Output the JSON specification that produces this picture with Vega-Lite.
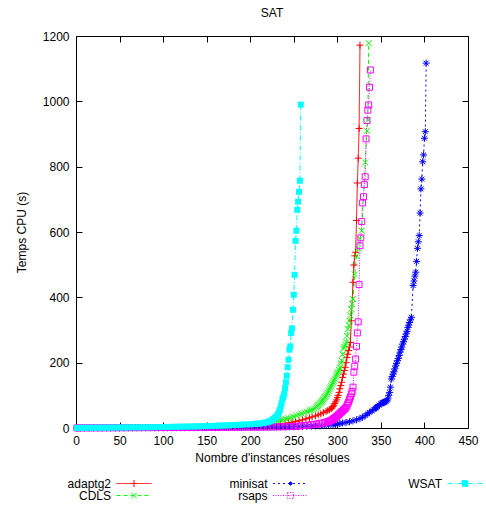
{
"$schema": "https://vega.github.io/schema/vega-lite/v6.json",
"width": 392, "height": 392,
"autosize": {"type": "none"},
"padding": {"left": 76, "top": 36, "right": 18, "bottom": 79},
"background": "white",
"title": {"text": "SAT", "fontSize": 12, "fontWeight": "normal", "font": "Liberation Sans", "color": "black", "offset": 10},
"config": {
 "font": "Liberation Sans",
 "view": {"stroke": "black", "strokeWidth": 1},
 "axis": {"grid": false, "domain": false, "tickColor": "black", "tickSize": -6, "tickWidth": 1, "labelFont": "Liberation Sans", "labelFontSize": 12, "labelColor": "black", "labelPadding": 13, "labelFlush": false, "labelOverlap": false, "titleFont": "Liberation Sans", "titleFontSize": 12, "titleFontWeight": "normal", "titleColor": "black"}
},
"data": {"values": [
{"s":"adaptg2","n":1,"t":0.1},{"s":"adaptg2","n":5,"t":0.1},{"s":"adaptg2","n":10,"t":0.2},{"s":"adaptg2","n":15,"t":0.2},{"s":"adaptg2","n":20,"t":0.3},{"s":"adaptg2","n":25,"t":0.3},{"s":"adaptg2","n":30,"t":0.4},{"s":"adaptg2","n":35,"t":0.4},{"s":"adaptg2","n":40,"t":0.5},{"s":"adaptg2","n":45,"t":0.5},{"s":"adaptg2","n":50,"t":0.6},{"s":"adaptg2","n":55,"t":0.7},{"s":"adaptg2","n":60,"t":0.8},{"s":"adaptg2","n":65,"t":0.8},{"s":"adaptg2","n":70,"t":0.9},{"s":"adaptg2","n":75,"t":1},{"s":"adaptg2","n":80,"t":1.1},{"s":"adaptg2","n":85,"t":1.2},{"s":"adaptg2","n":90,"t":1.3},{"s":"adaptg2","n":95,"t":1.4},{"s":"adaptg2","n":100,"t":1.5},{"s":"adaptg2","n":105,"t":1.6},{"s":"adaptg2","n":110,"t":1.8},{"s":"adaptg2","n":115,"t":1.9},{"s":"adaptg2","n":120,"t":2},{"s":"adaptg2","n":125,"t":2.2},{"s":"adaptg2","n":130,"t":2.4},{"s":"adaptg2","n":135,"t":2.6},{"s":"adaptg2","n":140,"t":2.8},{"s":"adaptg2","n":145,"t":3},{"s":"adaptg2","n":150,"t":3.3},{"s":"adaptg2","n":155,"t":3.5},{"s":"adaptg2","n":160,"t":3.8},{"s":"adaptg2","n":165,"t":4.1},{"s":"adaptg2","n":170,"t":4.4},{"s":"adaptg2","n":175,"t":4.7},{"s":"adaptg2","n":180,"t":5},{"s":"adaptg2","n":185,"t":5.4},{"s":"adaptg2","n":190,"t":5.8},{"s":"adaptg2","n":195,"t":6.3},{"s":"adaptg2","n":200,"t":6.8},{"s":"adaptg2","n":205,"t":7.3},{"s":"adaptg2","n":210,"t":7.9},{"s":"adaptg2","n":215,"t":8.5},{"s":"adaptg2","n":220,"t":9.2},{"s":"adaptg2","n":225,"t":10},{"s":"adaptg2","n":230,"t":11},{"s":"adaptg2","n":235,"t":12},{"s":"adaptg2","n":240,"t":14},{"s":"adaptg2","n":244,"t":16},{"s":"adaptg2","n":248,"t":18},{"s":"adaptg2","n":252,"t":20},{"s":"adaptg2","n":256,"t":22},{"s":"adaptg2","n":260,"t":25},{"s":"adaptg2","n":264,"t":28},{"s":"adaptg2","n":268,"t":31},{"s":"adaptg2","n":271,"t":34},{"s":"adaptg2","n":275,"t":37},{"s":"adaptg2","n":278,"t":40},{"s":"adaptg2","n":281,"t":43},{"s":"adaptg2","n":284,"t":47},{"s":"adaptg2","n":287,"t":51},{"s":"adaptg2","n":289,"t":53},{"s":"adaptg2","n":291,"t":56},{"s":"adaptg2","n":293,"t":59},{"s":"adaptg2","n":294,"t":62},{"s":"adaptg2","n":295,"t":66},{"s":"adaptg2","n":296,"t":70},{"s":"adaptg2","n":297,"t":75},{"s":"adaptg2","n":298,"t":80},{"s":"adaptg2","n":299,"t":86},{"s":"adaptg2","n":300,"t":93},{"s":"adaptg2","n":301,"t":100},{"s":"adaptg2","n":302,"t":109},{"s":"adaptg2","n":303,"t":120},{"s":"adaptg2","n":304,"t":130},{"s":"adaptg2","n":305,"t":140},{"s":"adaptg2","n":306,"t":155},{"s":"adaptg2","n":307,"t":165},{"s":"adaptg2","n":308,"t":176},{"s":"adaptg2","n":309,"t":186},{"s":"adaptg2","n":310,"t":200},{"s":"adaptg2","n":311,"t":216},{"s":"adaptg2","n":312,"t":226},{"s":"adaptg2","n":313,"t":237},{"s":"adaptg2","n":314,"t":248},{"s":"adaptg2","n":315,"t":262},{"s":"adaptg2","n":316,"t":328},{"s":"adaptg2","n":318,"t":446},{"s":"adaptg2","n":319,"t":499},{"s":"adaptg2","n":320,"t":527},{"s":"adaptg2","n":321,"t":538},{"s":"adaptg2","n":322,"t":635},{"s":"adaptg2","n":323,"t":750},{"s":"adaptg2","n":324,"t":826},{"s":"adaptg2","n":325,"t":917},{"s":"adaptg2","n":326,"t":1172},
{"s":"CDLS","n":1,"t":0.1},{"s":"CDLS","n":5,"t":0.1},{"s":"CDLS","n":10,"t":0.2},{"s":"CDLS","n":15,"t":0.2},{"s":"CDLS","n":20,"t":0.3},{"s":"CDLS","n":25,"t":0.4},{"s":"CDLS","n":30,"t":0.4},{"s":"CDLS","n":35,"t":0.5},{"s":"CDLS","n":40,"t":0.5},{"s":"CDLS","n":45,"t":0.6},{"s":"CDLS","n":50,"t":0.6},{"s":"CDLS","n":55,"t":0.7},{"s":"CDLS","n":60,"t":0.8},{"s":"CDLS","n":65,"t":0.9},{"s":"CDLS","n":70,"t":1},{"s":"CDLS","n":75,"t":1.1},{"s":"CDLS","n":80,"t":1.2},{"s":"CDLS","n":85,"t":1.3},{"s":"CDLS","n":90,"t":1.5},{"s":"CDLS","n":95,"t":1.6},{"s":"CDLS","n":100,"t":1.8},{"s":"CDLS","n":105,"t":1.9},{"s":"CDLS","n":110,"t":2},{"s":"CDLS","n":115,"t":2.2},{"s":"CDLS","n":120,"t":2.5},{"s":"CDLS","n":125,"t":2.7},{"s":"CDLS","n":130,"t":3},{"s":"CDLS","n":135,"t":3.2},{"s":"CDLS","n":140,"t":3.5},{"s":"CDLS","n":145,"t":3.8},{"s":"CDLS","n":150,"t":4},{"s":"CDLS","n":155,"t":4.3},{"s":"CDLS","n":160,"t":4.6},{"s":"CDLS","n":165,"t":5},{"s":"CDLS","n":170,"t":5.5},{"s":"CDLS","n":175,"t":6},{"s":"CDLS","n":180,"t":6.5},{"s":"CDLS","n":185,"t":7},{"s":"CDLS","n":190,"t":7.5},{"s":"CDLS","n":195,"t":8.2},{"s":"CDLS","n":200,"t":9},{"s":"CDLS","n":205,"t":10},{"s":"CDLS","n":210,"t":11},{"s":"CDLS","n":215,"t":12},{"s":"CDLS","n":220,"t":14},{"s":"CDLS","n":223,"t":16},{"s":"CDLS","n":226,"t":18},{"s":"CDLS","n":229,"t":20},{"s":"CDLS","n":232,"t":22},{"s":"CDLS","n":235,"t":24},{"s":"CDLS","n":238,"t":26},{"s":"CDLS","n":241,"t":28},{"s":"CDLS","n":244,"t":30},{"s":"CDLS","n":247,"t":32},{"s":"CDLS","n":250,"t":35},{"s":"CDLS","n":253,"t":38},{"s":"CDLS","n":256,"t":41},{"s":"CDLS","n":259,"t":44},{"s":"CDLS","n":262,"t":47},{"s":"CDLS","n":265,"t":50},{"s":"CDLS","n":268,"t":53},{"s":"CDLS","n":270,"t":55},{"s":"CDLS","n":272,"t":57},{"s":"CDLS","n":274,"t":60},{"s":"CDLS","n":276,"t":63},{"s":"CDLS","n":277,"t":66},{"s":"CDLS","n":278,"t":69},{"s":"CDLS","n":279,"t":72},{"s":"CDLS","n":280,"t":75},{"s":"CDLS","n":281,"t":78},{"s":"CDLS","n":282,"t":81},{"s":"CDLS","n":283,"t":84},{"s":"CDLS","n":284,"t":88},{"s":"CDLS","n":285,"t":92},{"s":"CDLS","n":286,"t":95},{"s":"CDLS","n":287,"t":99},{"s":"CDLS","n":288,"t":103},{"s":"CDLS","n":289,"t":108},{"s":"CDLS","n":290,"t":114},{"s":"CDLS","n":291,"t":119},{"s":"CDLS","n":292,"t":124},{"s":"CDLS","n":293,"t":129},{"s":"CDLS","n":294,"t":135},{"s":"CDLS","n":295,"t":140},{"s":"CDLS","n":296,"t":145},{"s":"CDLS","n":297,"t":150},{"s":"CDLS","n":298,"t":156},{"s":"CDLS","n":299,"t":162},{"s":"CDLS","n":300,"t":167},{"s":"CDLS","n":301,"t":172},{"s":"CDLS","n":302,"t":178},{"s":"CDLS","n":303,"t":185},{"s":"CDLS","n":304,"t":198},{"s":"CDLS","n":305,"t":206},{"s":"CDLS","n":306,"t":225},{"s":"CDLS","n":307,"t":242},{"s":"CDLS","n":308,"t":248},{"s":"CDLS","n":309,"t":255},{"s":"CDLS","n":310,"t":262},{"s":"CDLS","n":311,"t":282},{"s":"CDLS","n":312,"t":303},{"s":"CDLS","n":313,"t":315},{"s":"CDLS","n":314,"t":328},{"s":"CDLS","n":315,"t":345},{"s":"CDLS","n":316,"t":364},{"s":"CDLS","n":317,"t":380},{"s":"CDLS","n":318,"t":395},{"s":"CDLS","n":320,"t":470},{"s":"CDLS","n":322,"t":527},{"s":"CDLS","n":324,"t":550},{"s":"CDLS","n":326,"t":580},{"s":"CDLS","n":328,"t":604},{"s":"CDLS","n":332,"t":813},{"s":"CDLS","n":334,"t":910},{"s":"CDLS","n":335,"t":943},{"s":"CDLS","n":336,"t":1178},
{"s":"minisat","n":1,"t":0.05},{"s":"minisat","n":5,"t":0.05},{"s":"minisat","n":10,"t":0.1},{"s":"minisat","n":15,"t":0.1},{"s":"minisat","n":20,"t":0.1},{"s":"minisat","n":25,"t":0.1},{"s":"minisat","n":30,"t":0.15},{"s":"minisat","n":35,"t":0.15},{"s":"minisat","n":40,"t":0.2},{"s":"minisat","n":45,"t":0.2},{"s":"minisat","n":50,"t":0.2},{"s":"minisat","n":55,"t":0.25},{"s":"minisat","n":60,"t":0.3},{"s":"minisat","n":65,"t":0.3},{"s":"minisat","n":70,"t":0.35},{"s":"minisat","n":75,"t":0.4},{"s":"minisat","n":80,"t":0.4},{"s":"minisat","n":85,"t":0.45},{"s":"minisat","n":90,"t":0.5},{"s":"minisat","n":95,"t":0.5},{"s":"minisat","n":100,"t":0.55},{"s":"minisat","n":105,"t":0.6},{"s":"minisat","n":110,"t":0.65},{"s":"minisat","n":115,"t":0.7},{"s":"minisat","n":120,"t":0.75},{"s":"minisat","n":125,"t":0.8},{"s":"minisat","n":130,"t":0.85},{"s":"minisat","n":135,"t":0.9},{"s":"minisat","n":140,"t":0.95},{"s":"minisat","n":145,"t":1},{"s":"minisat","n":150,"t":1.05},{"s":"minisat","n":155,"t":1.1},{"s":"minisat","n":160,"t":1.15},{"s":"minisat","n":165,"t":1.2},{"s":"minisat","n":170,"t":1.3},{"s":"minisat","n":175,"t":1.4},{"s":"minisat","n":180,"t":1.5},{"s":"minisat","n":185,"t":1.6},{"s":"minisat","n":190,"t":1.7},{"s":"minisat","n":195,"t":1.8},{"s":"minisat","n":200,"t":1.9},{"s":"minisat","n":205,"t":2},{"s":"minisat","n":210,"t":2.1},{"s":"minisat","n":215,"t":2.2},{"s":"minisat","n":220,"t":2.4},{"s":"minisat","n":225,"t":2.6},{"s":"minisat","n":230,"t":2.8},{"s":"minisat","n":235,"t":3},{"s":"minisat","n":240,"t":3.2},{"s":"minisat","n":245,"t":3.4},{"s":"minisat","n":250,"t":3.7},{"s":"minisat","n":255,"t":4},{"s":"minisat","n":260,"t":4.4},{"s":"minisat","n":265,"t":4.9},{"s":"minisat","n":270,"t":5.4},{"s":"minisat","n":275,"t":6},{"s":"minisat","n":280,"t":6.7},{"s":"minisat","n":285,"t":7.5},{"s":"minisat","n":290,"t":8.6},{"s":"minisat","n":295,"t":10},{"s":"minisat","n":298,"t":11},{"s":"minisat","n":300,"t":12},{"s":"minisat","n":303,"t":13.5},{"s":"minisat","n":306,"t":15},{"s":"minisat","n":310,"t":17},{"s":"minisat","n":314,"t":19},{"s":"minisat","n":318,"t":22},{"s":"minisat","n":322,"t":25},{"s":"minisat","n":326,"t":29},{"s":"minisat","n":329,"t":33},{"s":"minisat","n":332,"t":38},{"s":"minisat","n":335,"t":44},{"s":"minisat","n":337,"t":48},{"s":"minisat","n":340,"t":53},{"s":"minisat","n":342,"t":57},{"s":"minisat","n":344,"t":61},{"s":"minisat","n":345,"t":63},{"s":"minisat","n":346,"t":66},{"s":"minisat","n":348,"t":70},{"s":"minisat","n":350,"t":74},{"s":"minisat","n":351,"t":76},{"s":"minisat","n":352,"t":77},{"s":"minisat","n":353,"t":78},{"s":"minisat","n":354,"t":79},{"s":"minisat","n":355,"t":80},{"s":"minisat","n":356,"t":82},{"s":"minisat","n":357,"t":85},{"s":"minisat","n":358,"t":89},{"s":"minisat","n":359,"t":100},{"s":"minisat","n":360,"t":109},{"s":"minisat","n":361,"t":125},{"s":"minisat","n":362,"t":150},{"s":"minisat","n":363,"t":158},{"s":"minisat","n":364,"t":165},{"s":"minisat","n":365,"t":172},{"s":"minisat","n":366,"t":181},{"s":"minisat","n":367,"t":190},{"s":"minisat","n":368,"t":198},{"s":"minisat","n":369,"t":206},{"s":"minisat","n":370,"t":213},{"s":"minisat","n":371,"t":222},{"s":"minisat","n":372,"t":232},{"s":"minisat","n":373,"t":240},{"s":"minisat","n":374,"t":248},{"s":"minisat","n":375,"t":257},{"s":"minisat","n":376,"t":264},{"s":"minisat","n":377,"t":272},{"s":"minisat","n":378,"t":280},{"s":"minisat","n":379,"t":288},{"s":"minisat","n":380,"t":296},{"s":"minisat","n":381,"t":308},{"s":"minisat","n":382,"t":315},{"s":"minisat","n":383,"t":323},{"s":"minisat","n":384,"t":331},{"s":"minisat","n":385,"t":339},{"s":"minisat","n":387,"t":436},{"s":"minisat","n":388,"t":450},{"s":"minisat","n":389,"t":465},{"s":"minisat","n":390,"t":477},{"s":"minisat","n":391,"t":510},{"s":"minisat","n":392,"t":550},{"s":"minisat","n":393,"t":570},{"s":"minisat","n":394,"t":589},{"s":"minisat","n":395,"t":658},{"s":"minisat","n":396,"t":732},{"s":"minisat","n":397,"t":762},{"s":"minisat","n":398,"t":815},{"s":"minisat","n":399,"t":836},{"s":"minisat","n":400,"t":887},{"s":"minisat","n":401,"t":907},{"s":"minisat","n":402,"t":1117},
{"s":"rsaps","n":1,"t":0.3},{"s":"rsaps","n":5,"t":0.4},{"s":"rsaps","n":10,"t":0.5},{"s":"rsaps","n":15,"t":0.5},{"s":"rsaps","n":20,"t":0.6},{"s":"rsaps","n":25,"t":0.6},{"s":"rsaps","n":30,"t":0.7},{"s":"rsaps","n":35,"t":0.7},{"s":"rsaps","n":40,"t":0.8},{"s":"rsaps","n":45,"t":0.8},{"s":"rsaps","n":50,"t":0.9},{"s":"rsaps","n":55,"t":0.9},{"s":"rsaps","n":60,"t":1},{"s":"rsaps","n":65,"t":1},{"s":"rsaps","n":70,"t":1.1},{"s":"rsaps","n":75,"t":1.1},{"s":"rsaps","n":80,"t":1.2},{"s":"rsaps","n":85,"t":1.2},{"s":"rsaps","n":90,"t":1.3},{"s":"rsaps","n":95,"t":1.3},{"s":"rsaps","n":100,"t":1.4},{"s":"rsaps","n":105,"t":1.4},{"s":"rsaps","n":110,"t":1.5},{"s":"rsaps","n":115,"t":1.5},{"s":"rsaps","n":120,"t":1.6},{"s":"rsaps","n":125,"t":1.6},{"s":"rsaps","n":130,"t":1.7},{"s":"rsaps","n":135,"t":1.7},{"s":"rsaps","n":140,"t":1.8},{"s":"rsaps","n":145,"t":1.8},{"s":"rsaps","n":150,"t":1.9},{"s":"rsaps","n":155,"t":1.9},{"s":"rsaps","n":160,"t":2},{"s":"rsaps","n":165,"t":2},{"s":"rsaps","n":170,"t":2.1},{"s":"rsaps","n":175,"t":2.1},{"s":"rsaps","n":180,"t":2.2},{"s":"rsaps","n":185,"t":2.3},{"s":"rsaps","n":190,"t":2.4},{"s":"rsaps","n":195,"t":2.5},{"s":"rsaps","n":200,"t":2.6},{"s":"rsaps","n":205,"t":2.7},{"s":"rsaps","n":210,"t":2.8},{"s":"rsaps","n":215,"t":2.9},{"s":"rsaps","n":220,"t":3},{"s":"rsaps","n":225,"t":3.2},{"s":"rsaps","n":230,"t":3.5},{"s":"rsaps","n":235,"t":3.7},{"s":"rsaps","n":240,"t":4},{"s":"rsaps","n":245,"t":4.5},{"s":"rsaps","n":250,"t":5},{"s":"rsaps","n":254,"t":5.5},{"s":"rsaps","n":258,"t":6.5},{"s":"rsaps","n":262,"t":7.5},{"s":"rsaps","n":266,"t":8.5},{"s":"rsaps","n":270,"t":10},{"s":"rsaps","n":273,"t":11},{"s":"rsaps","n":276,"t":12},{"s":"rsaps","n":279,"t":13.5},{"s":"rsaps","n":282,"t":15},{"s":"rsaps","n":285,"t":16.5},{"s":"rsaps","n":287,"t":18},{"s":"rsaps","n":289,"t":19},{"s":"rsaps","n":290,"t":20},{"s":"rsaps","n":291,"t":21},{"s":"rsaps","n":292,"t":22},{"s":"rsaps","n":293,"t":23.5},{"s":"rsaps","n":294,"t":25},{"s":"rsaps","n":295,"t":27},{"s":"rsaps","n":296,"t":29},{"s":"rsaps","n":297,"t":31},{"s":"rsaps","n":298,"t":33},{"s":"rsaps","n":299,"t":35},{"s":"rsaps","n":300,"t":37},{"s":"rsaps","n":301,"t":40},{"s":"rsaps","n":302,"t":42},{"s":"rsaps","n":303,"t":45},{"s":"rsaps","n":304,"t":48},{"s":"rsaps","n":305,"t":50},{"s":"rsaps","n":306,"t":52},{"s":"rsaps","n":307,"t":55},{"s":"rsaps","n":308,"t":57},{"s":"rsaps","n":309,"t":60},{"s":"rsaps","n":310,"t":63},{"s":"rsaps","n":311,"t":68},{"s":"rsaps","n":312,"t":74},{"s":"rsaps","n":313,"t":80},{"s":"rsaps","n":314,"t":88},{"s":"rsaps","n":315,"t":95},{"s":"rsaps","n":316,"t":104},{"s":"rsaps","n":317,"t":112},{"s":"rsaps","n":318,"t":125},{"s":"rsaps","n":319,"t":171},{"s":"rsaps","n":320,"t":189},{"s":"rsaps","n":321,"t":211},{"s":"rsaps","n":322,"t":250},{"s":"rsaps","n":323,"t":291},{"s":"rsaps","n":324,"t":325},{"s":"rsaps","n":325,"t":439},{"s":"rsaps","n":326,"t":558},{"s":"rsaps","n":327,"t":582},{"s":"rsaps","n":328,"t":632},{"s":"rsaps","n":329,"t":689},{"s":"rsaps","n":330,"t":708},{"s":"rsaps","n":331,"t":745},{"s":"rsaps","n":332,"t":769},{"s":"rsaps","n":333,"t":885},{"s":"rsaps","n":334,"t":941},{"s":"rsaps","n":335,"t":973},{"s":"rsaps","n":336,"t":989},{"s":"rsaps","n":337,"t":1043},{"s":"rsaps","n":338,"t":1096},
{"s":"WSAT","n":1,"t":0.5},{"s":"WSAT","n":4,"t":0.6},{"s":"WSAT","n":8,"t":0.6},{"s":"WSAT","n":12,"t":0.7},{"s":"WSAT","n":16,"t":0.8},{"s":"WSAT","n":20,"t":0.9},{"s":"WSAT","n":24,"t":1},{"s":"WSAT","n":28,"t":1},{"s":"WSAT","n":32,"t":1.1},{"s":"WSAT","n":36,"t":1.2},{"s":"WSAT","n":40,"t":1.3},{"s":"WSAT","n":44,"t":1.4},{"s":"WSAT","n":48,"t":1.5},{"s":"WSAT","n":52,"t":1.6},{"s":"WSAT","n":56,"t":1.7},{"s":"WSAT","n":60,"t":1.8},{"s":"WSAT","n":64,"t":1.9},{"s":"WSAT","n":68,"t":2},{"s":"WSAT","n":72,"t":2.1},{"s":"WSAT","n":76,"t":2.2},{"s":"WSAT","n":80,"t":2.3},{"s":"WSAT","n":84,"t":2.4},{"s":"WSAT","n":88,"t":2.5},{"s":"WSAT","n":92,"t":2.7},{"s":"WSAT","n":96,"t":2.8},{"s":"WSAT","n":100,"t":3},{"s":"WSAT","n":104,"t":3.2},{"s":"WSAT","n":108,"t":3.4},{"s":"WSAT","n":112,"t":3.6},{"s":"WSAT","n":116,"t":3.8},{"s":"WSAT","n":120,"t":4},{"s":"WSAT","n":124,"t":4.2},{"s":"WSAT","n":128,"t":4.4},{"s":"WSAT","n":132,"t":4.6},{"s":"WSAT","n":136,"t":4.9},{"s":"WSAT","n":140,"t":5.2},{"s":"WSAT","n":144,"t":5.5},{"s":"WSAT","n":148,"t":5.8},{"s":"WSAT","n":152,"t":6.1},{"s":"WSAT","n":156,"t":6.4},{"s":"WSAT","n":160,"t":6.8},{"s":"WSAT","n":164,"t":7.2},{"s":"WSAT","n":168,"t":7.6},{"s":"WSAT","n":172,"t":8},{"s":"WSAT","n":176,"t":8.5},{"s":"WSAT","n":180,"t":9},{"s":"WSAT","n":184,"t":9.5},{"s":"WSAT","n":188,"t":10},{"s":"WSAT","n":192,"t":10.5},{"s":"WSAT","n":196,"t":11},{"s":"WSAT","n":200,"t":11.5},{"s":"WSAT","n":203,"t":12},{"s":"WSAT","n":206,"t":13},{"s":"WSAT","n":209,"t":13.5},{"s":"WSAT","n":212,"t":14},{"s":"WSAT","n":215,"t":15},{"s":"WSAT","n":218,"t":17},{"s":"WSAT","n":220,"t":18},{"s":"WSAT","n":222,"t":20},{"s":"WSAT","n":224,"t":22},{"s":"WSAT","n":225,"t":24},{"s":"WSAT","n":226,"t":26},{"s":"WSAT","n":227,"t":28},{"s":"WSAT","n":228,"t":30},{"s":"WSAT","n":229,"t":32},{"s":"WSAT","n":230,"t":35},{"s":"WSAT","n":231,"t":38},{"s":"WSAT","n":232,"t":42},{"s":"WSAT","n":233,"t":48},{"s":"WSAT","n":234,"t":55},{"s":"WSAT","n":235,"t":66},{"s":"WSAT","n":236,"t":75},{"s":"WSAT","n":237,"t":89},{"s":"WSAT","n":238,"t":95},{"s":"WSAT","n":239,"t":104},{"s":"WSAT","n":240,"t":122},{"s":"WSAT","n":241,"t":140},{"s":"WSAT","n":242,"t":160},{"s":"WSAT","n":243,"t":186},{"s":"WSAT","n":244,"t":209},{"s":"WSAT","n":245,"t":240},{"s":"WSAT","n":246,"t":250},{"s":"WSAT","n":247,"t":291},{"s":"WSAT","n":248,"t":305},{"s":"WSAT","n":249,"t":362},{"s":"WSAT","n":250,"t":408},{"s":"WSAT","n":251,"t":469},{"s":"WSAT","n":252,"t":573},{"s":"WSAT","n":253,"t":604},{"s":"WSAT","n":254,"t":668},{"s":"WSAT","n":255,"t":693},{"s":"WSAT","n":256,"t":723},{"s":"WSAT","n":257,"t":757},{"s":"WSAT","n":258,"t":990}
]},
"layer": [
{
 "mark": {"type": "line", "strokeWidth": 1},
 "encoding": {
  "x": {"field": "n", "type": "quantitative", "scale": {"domain": [0, 450], "nice": false}, "axis": {"orient": "bottom", "values": [0,50,100,150,200,250,300,350,400,450], "title": "Nombre d'instances résolues", "titlePadding": 6}},
  "y": {"field": "t", "type": "quantitative", "scale": {"domain": [0, 1200], "nice": false}, "axis": {"orient": "left", "values": [0,200,400,600,800,1000,1200], "format": "d", "title": "Temps CPU (s)", "titlePadding": 14}},
  "color": {"field": "s", "type": "nominal",
   "scale": {"domain": ["adaptg2","minisat","WSAT","CDLS","rsaps"], "range": ["#ff0000","#0000ff","#00ffff","#00ff00","#ff00ff"]},
   "legend": {"orient": "none", "legendX": 52, "legendY": 441.5, "columns": 3, "direction": "horizontal", "title": null,
    "symbolSize": 49, "symbolStrokeWidth": 1, "labelFont": "Liberation Sans", "labelFontSize": 12, "labelColor": "black",
    "labelAlign": "right", "labelOffset": -29, "columnPadding": 64.5, "rowPadding": -1, "gridAlign": "each", "padding": 0,
    "encode": {"symbols": {"update": {
      "shape": {"signal": "datum.value === 'adaptg2' ? 'M-20,0M-5,0H5M-1,0H1M0,-1V1' : datum.value === 'CDLS' ? 'M-20,0M-5,0H5M0,0L0.85,0.85M0,0L-0.85,-0.85M0,0L0.85,-0.85M0,0L-0.85,0.85' : datum.value === 'minisat' ? 'M-20,0M-5,0H5M0,0H1M0,0H-1M0,0V1M0,0V-1M0,0L0.7,0.7M0,0L-0.7,-0.7M0,0L0.7,-0.7M0,0L-0.7,0.7' : datum.value === 'rsaps' ? 'M-20,0M-5,0H5M-0.85,-0.85H0.85V0.85H-0.85Z' : 'M-25,0M-5,0H5M-0.85,-0.85H0.85V0.85H-0.85Z'"},
      "strokeDash": {"signal": "datum.value === 'CDLS' ? [4,3] : datum.value === 'minisat' ? [2,3] : datum.value === 'rsaps' ? [1,1.5] : datum.value === 'WSAT' ? [5,2,1,2] : [1,0]"},
      "fill": {"signal": "datum.value === 'WSAT' ? '#00ffff' : 'transparent'"},
      "opacity": {"value": 1},
      "strokeWidth": {"value": 1}
    }}}
   }},
  "strokeDash": {"field": "s", "type": "nominal", "legend": null,
   "scale": {"domain": ["adaptg2","minisat","WSAT","CDLS","rsaps","~"], "range": [[1,0],[2,3],[5,2,1,2],[4,3],[1,1.5],[1,0]]}}
 },
 "transform": [{"filter": "datum.s !== 'WSAT'"}]
},
{
 "transform": [{"filter": "datum.s !== 'WSAT'"}],
 "mark": {"type": "point", "filled": false, "size": 49, "strokeWidth": 1, "opacity": 1},
 "encoding": {
  "x": {"field": "n", "type": "quantitative", "axis": {"orient": "top", "values": [0,50,100,150,200,250,300,350,400,450], "labels": false, "title": null}},
  "y": {"field": "t", "type": "quantitative", "axis": {"orient": "right", "values": [0,200,400,600,800,1000,1200], "labels": false, "title": null}},
  "color": {"field": "s", "type": "nominal", "legend": null},
  "shape": {"field": "s", "type": "nominal", "legend": null,
   "scale": {"domain": ["adaptg2","minisat","WSAT","CDLS","rsaps","~~"], "range": ["M-1,0H1M0,-1V1", "M-1,0H1M0,-1V1M-0.7,-0.7L0.7,0.7M-0.7,0.7L0.7,-0.7", "square", "M-0.85,-0.85L0.85,0.85M-0.85,0.85L0.85,-0.85", "M-0.85,-0.85H0.85V0.85H-0.85Z", "circle"]}}
 }
},
{
 "transform": [{"filter": "datum.s === 'WSAT'"}],
 "mark": {"type": "line", "strokeWidth": 1, "color": "#00ffff", "strokeDash": [5,2,1,2]},
 "encoding": {
  "x": {"field": "n", "type": "quantitative", "axis": null},
  "y": {"field": "t", "type": "quantitative", "axis": null}
 }
},
{
 "transform": [{"filter": "datum.s === 'WSAT'"}],
 "mark": {"type": "point", "shape": "square", "filled": true, "size": 36, "opacity": 1, "color": "#00ffff"},
 "encoding": {
  "x": {"field": "n", "type": "quantitative", "axis": null},
  "y": {"field": "t", "type": "quantitative", "axis": null}
 }
}
]
}
